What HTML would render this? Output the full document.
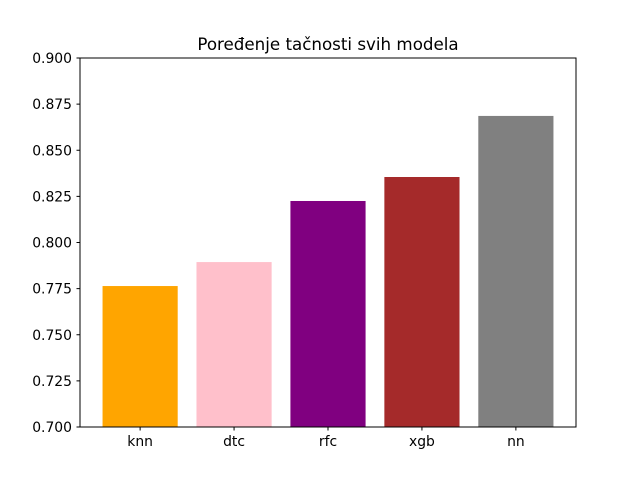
<!DOCTYPE html>
<html><head><meta charset="utf-8"><style>
body{margin:0;background:#fff;}
svg{display:block;font-family:"DejaVu Sans","Liberation Sans",sans-serif;}
</style></head><body>
<svg id="chart" width="640" height="480">
<rect width="640" height="480" fill="#fff"/>
<text x="328" y="50" font-size="16.7" text-anchor="middle" fill="#000">Poređenje tačnosti svih modela</text>
<g id="bars"></g>
<g id="yticks"></g>
<g id="xticks"></g>
<rect x="80" y="58" width="496" height="369" fill="none" stroke="#000" stroke-width="1"/>
</svg>
<script>
const categories = ["knn","dtc","rfc","xgb","nn"];
const values = [0.7764, 0.7894, 0.8225, 0.8355, 0.8686];
const colors = ["orange","pink","purple","brown","gray"];
const yTicks = [0.700,0.725,0.750,0.775,0.800,0.825,0.850,0.875,0.900];
const yTickLabels = ["0.700","0.725","0.750","0.775","0.800","0.825","0.850","0.875","0.900"];

const L=80,R=576,T=58,B=427, yMin=0.7, yMax=0.9;
const xMin=-0.64, xMax=categories.length-1+0.64;
const X=v=>L+(v-xMin)/(xMax-xMin)*(R-L);
const Y=v=>B-(v-yMin)/(yMax-yMin)*(B-T);
const NS="http://www.w3.org/2000/svg";
function mk(tag,attrs,parent){const e=document.createElementNS(NS,tag);for(const k in attrs)e.setAttribute(k,attrs[k]);parent.appendChild(e);return e;}
const gb=document.getElementById('bars'),gy=document.getElementById('yticks'),gx=document.getElementById('xticks');
categories.forEach((c,i)=>{
  const x0=X(i-0.4),x1=X(i+0.4),yt=Y(values[i]);
  const r=mk('rect',{x:x0,y:yt,width:x1-x0,height:B-yt,fill:colors[i]},gb);
  
  
  const t=mk('line',{x1:X(i),x2:X(i),y1:B,y2:B+3.5,stroke:'#000'},gx);
  
  
  const l=mk('text',{x:X(i),y:B+19,'font-size':13.9,'text-anchor':'middle'},gx);
  l.textContent=c;
  
  
});
yTicks.forEach((v,i)=>{
  const t=mk('line',{x1:L-3.5,x2:L,y1:Y(v),y2:Y(v),stroke:'#000'},gy);
  
  
  const l=mk('text',{x:L-8,y:Y(v)+5,'font-size':13.9,'text-anchor':'end'},gy);
  l.textContent=yTickLabels[i];
  
  
});
</script>
</body></html>
